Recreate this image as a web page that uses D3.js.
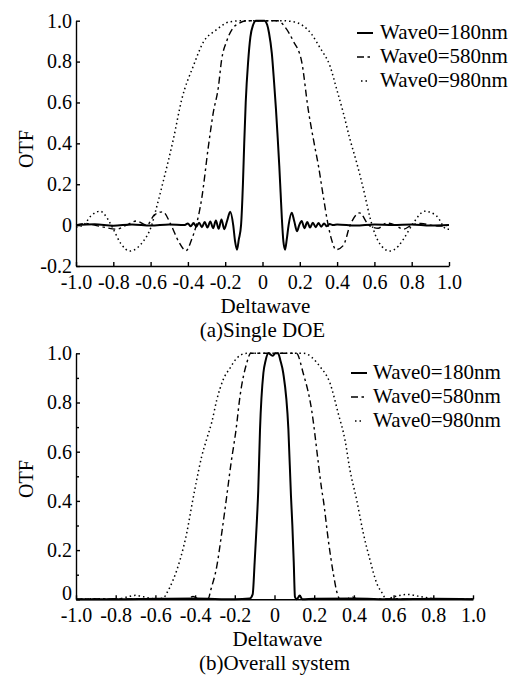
<!DOCTYPE html>
<html>
<head>
<meta charset="utf-8">
<script src="https://cdn.jsdelivr.net/npm/d3@7/dist/d3.min.js"></script>
</head>
<body style="margin:0; background:#fff">
<svg width="511" height="677"></svg>
<script>
// ---- data ----
var xTicks = [-1, -0.8, -0.6, -0.4, -0.2, 0, 0.2, 0.4, 0.6, 0.8, 1];
var topYTicks = [-0.2, 0, 0.2, 0.4, 0.6, 0.8, 1];
var botYTicks = [0, 0.2, 0.4, 0.6, 0.8, 1];
var botYMinor = [0.1, 0.3, 0.5, 0.7, 0.9];
var seriesNames = ["Wave0=180nm", "Wave0=580nm", "Wave0=980nm"];

// (a) Single DOE
var singleDelta180 = [-1, -0.9, -0.8, -0.7, -0.6, -0.5, -0.42, -0.4, -0.385, -0.37, -0.355, -0.34, -0.325, -0.31, -0.295, -0.28, -0.265, -0.25, -0.235, -0.22, -0.205, -0.19, -0.173, -0.157, -0.147, -0.137, -0.127, -0.115, -0.105, -0.098, -0.09, -0.077, -0.065, -0.05, -0.035, 0.01, 0.025, 0.035, 0.05, 0.062, 0.072, 0.08, 0.09, 0.097, 0.104, 0.112, 0.121, 0.13, 0.14, 0.157, 0.17, 0.185, 0.197, 0.21, 0.225, 0.24, 0.255, 0.27, 0.285, 0.3, 0.315, 0.33, 0.345, 0.36, 0.38, 0.4, 0.5, 0.6, 0.7, 0.8, 0.9, 1];
var singleOtf180 = [0, 0.004, -0.003, 0.003, -0.002, 0.003, 0, 0.008, -0.006, 0.01, -0.008, 0.012, -0.01, 0.015, -0.012, 0.018, -0.015, 0.022, -0.018, 0.028, -0.02, 0.02, 0.065, 0.0, -0.08, -0.12, -0.07, 0.0, 0.2, 0.4, 0.6, 0.8, 0.92, 0.98, 1.0, 1.0, 0.98, 0.94, 0.84, 0.7, 0.57, 0.45, 0.29, 0.16, 0.03, -0.08, -0.12, -0.07, 0.0, 0.06, 0.02, -0.03, 0.0, 0.02, -0.015, 0.015, -0.012, 0.012, -0.01, 0.01, -0.008, 0.008, -0.006, 0.005, 0, 0.003, -0.002, 0.003, 0, 0.003, -0.002, 0];

var singleDelta580 = [-1, -0.95, -0.9, -0.85, -0.78, -0.73, -0.675, -0.62, -0.58, -0.535, -0.49, -0.45, -0.41, -0.38, -0.355, -0.326, -0.29, -0.264, -0.237, -0.219, -0.192, -0.157, -0.13, -0.08, 0, 0.08, 0.12, 0.165, 0.21, 0.245, 0.28, 0.3, 0.326, 0.35, 0.37, 0.394, 0.433, 0.47, 0.52, 0.57, 0.62, 0.666, 0.71, 0.755, 0.8, 0.85, 0.9, 0.95, 1];
var singleOtf580 = [0, 0.008, 0, -0.01, -0.02, 0, 0.02, 0, 0.05, 0.065, 0.0, -0.08, -0.125, -0.07, 0.0, 0.13, 0.386, 0.55, 0.672, 0.81, 0.9, 0.966, 0.985, 1.0, 1.0, 1.0, 0.97, 0.9, 0.8, 0.566, 0.386, 0.29, 0.14, 0.01, -0.07, -0.12, -0.1, 0.0, 0.06, 0.0, -0.015, 0.01, 0, -0.02, 0, 0.008, 0, -0.005, 0];

var singleDelta980 = [-1, -0.96, -0.92, -0.871, -0.83, -0.8, -0.76, -0.71, -0.67, -0.64, -0.594, -0.57, -0.55, -0.532, -0.478, -0.433, -0.371, -0.314, -0.255, -0.174, -0.1, 0, 0.1, 0.165, 0.264, 0.308, 0.362, 0.398, 0.433, 0.469, 0.505, 0.55, 0.565, 0.594, 0.639, 0.684, 0.728, 0.755, 0.81, 0.871, 0.934, 0.988, 1];
var singleOtf980 = [-0.01, 0.0, 0.045, 0.068, 0.03, -0.02, -0.09, -0.127, -0.11, -0.08, 0.0, 0.08, 0.15, 0.215, 0.42, 0.615, 0.778, 0.9, 0.95, 0.995, 1.0, 1.0, 1.0, 0.995, 0.933, 0.868, 0.778, 0.664, 0.55, 0.42, 0.305, 0.142, 0.08, -0.02, -0.103, -0.127, -0.103, -0.07, 0.012, 0.068, 0.044, -0.02, -0.02];

// (b) Overall system
var overallDelta180 = [-1, -0.8, -0.6, -0.4, -0.2, -0.125, -0.11, -0.1, -0.09, -0.082, -0.073, -0.056, -0.045, -0.031, -0.01, 0.005, 0.018, 0.03, 0.044, 0.07, 0.083, 0.09, 0.097, 0.103, 0.112, 0.127, 0.14, 0.2, 0.4, 0.6, 0.8, 1];
var overallOtf180 = [0, 0, 0.002, 0.003, 0, 0.003, 0.02, 0.15, 0.3, 0.44, 0.69, 0.92, 0.97, 1.0, 0.99, 1.0, 1.0, 0.97, 0.92, 0.69, 0.42, 0.3, 0.15, 0.01, 0.0, 0.015, 0.0, 0.002, 0.003, 0, 0.002, 0];

var overallDelta580 = [-1, -0.8, -0.6, -0.44, -0.41, -0.38, -0.345, -0.333, -0.321, -0.291, -0.266, -0.241, -0.219, -0.194, -0.174, -0.14, -0.12, 0, 0.11, 0.145, 0.187, 0.221, 0.238, 0.246, 0.271, 0.296, 0.316, 0.33, 0.36, 0.39, 0.42, 0.6, 0.8, 1];
var overallOtf580 = [0, 0.002, 0, 0, 0.012, 0, 0, 0.004, 0.038, 0.133, 0.268, 0.417, 0.553, 0.688, 0.824, 0.96, 1.0, 1.0, 1.0, 0.918, 0.77, 0.553, 0.445, 0.404, 0.241, 0.106, 0.024, 0.0, 0, 0.01, 0, 0.002, 0, 0];

var overallDelta980 = [-1, -0.9, -0.8, -0.73, -0.7, -0.66, -0.6, -0.56, -0.543, -0.51, -0.476, -0.442, -0.417, -0.392, -0.367, -0.342, -0.316, -0.291, -0.258, -0.224, -0.19, -0.14, 0, 0.145, 0.229, 0.28, 0.321, 0.355, 0.38, 0.414, 0.447, 0.481, 0.515, 0.548, 0.56, 0.6, 0.67, 0.73, 0.8, 0.9, 1];
var overallOtf980 = [0, 0.002, 0, 0.012, 0.016, 0.01, 0.002, 0.005, 0.025, 0.08, 0.16, 0.27, 0.38, 0.485, 0.58, 0.65, 0.72, 0.81, 0.894, 0.94, 0.98, 1.0, 1.0, 1.0, 0.946, 0.878, 0.756, 0.648, 0.526, 0.404, 0.27, 0.16, 0.065, 0.018, 0.0, 0.01, 0.02, 0.012, 0.003, 0, 0];

// ---- drawing ----
var svg = d3.select("svg");
var serif = "'Liberation Serif'";

var dashes = [null, "7,3.5,2.5,3.5", "1.5,3"];
var widths = [2, 1.4, 1.5];

function fmt(d) { return d === 0 ? "0" : d.toFixed(1); }

function styleAxis(sel) {
  sel.attr("font-family", null).attr("font-size", null);
  sel.selectAll(".domain, .tick line").attr("stroke", "#000").attr("stroke-width", 1.4);
  sel.selectAll(".tick text")
    .style("font-family", serif)
    .style("font-size", "20px")
    .attr("fill", "#000");
}

function label(g, size) {
  return g.append("text")
    .style("font-family", serif)
    .style("font-size", size + "px")
    .attr("fill", "#000");
}

function panel(opt) {
  var x = d3.scaleLinear().domain([-1, 1]).range(opt.xRange);
  var y = d3.scaleLinear().domain(opt.yDomain).range(opt.yRange);
  var g = svg.append("g");

  g.append("g")
    .attr("transform", "translate(0," + opt.yRange[0] + ")")
    .call(d3.axisBottom(x).tickValues(xTicks).tickFormat(fmt)
      .tickSizeInner(-4).tickSizeOuter(0).tickPadding(9))
    .call(styleAxis);

  var ya = g.append("g")
    .attr("transform", "translate(" + opt.xRange[0] + ",0)")
    .call(d3.axisLeft(y).tickValues(opt.yTicks).tickFormat(fmt)
      .tickSizeInner(-4).tickSizeOuter(0).tickPadding(4))
    .call(styleAxis);
  // in the lower panel the zero label sits on the axis line
  ya.selectAll(".tick text").filter(function(d) { return d === 0; })
    .attr("dy", opt.zeroDy);

  if (opt.yMinor) {
    g.append("g")
      .attr("transform", "translate(" + opt.xRange[0] + ",0)")
      .call(d3.axisLeft(y).tickValues(opt.yMinor).tickFormat("")
        .tickSizeInner(-3).tickSizeOuter(0))
      .call(styleAxis)
      .select(".domain").remove();
  }

  var line = d3.line()
    .x(function(d) { return x(d[0]); })
    .y(function(d) { return y(d[1]); })
    .curve(d3.curveMonotoneX);

  opt.series.forEach(function(s, i) {
    g.append("path")
      .datum(d3.zip(s[0], s[1]))
      .attr("fill", "none")
      .attr("stroke", "#000")
      .attr("stroke-width", widths[i])
      .attr("stroke-dasharray", dashes[i])
      .attr("d", line);
  });

  // legend
  var lg = g.selectAll(".legend")
    .data(seriesNames)
    .enter().append("g")
    .attr("transform", function(d, i) {
      return "translate(" + opt.legend[0] + "," + (opt.legend[1] + i * 24) + ")";
    });
  lg.append("line")
    .attr("x1", function(d, i) { return i === 2 ? 4 : 0; })
    .attr("x2", function(d, i) { return i === 2 ? 10 : 16; })
    .attr("y1", -6).attr("y2", -6)
    .attr("stroke", "#000")
    .attr("stroke-width", function(d, i) { return widths[i]; })
    .attr("stroke-dasharray", function(d, i) { return dashes[i]; });
  lg.append("text")
    .attr("x", opt.legendGap)
    .attr("fill", "#000")
    .style("font-family", serif)
    .style("font-size", "21px")
    .text(function(d) { return d; });

  var cx = (opt.xRange[0] + opt.xRange[1]) / 2;
  label(g, 21)
    .attr("x", cx + 3).attr("y", opt.yRange[0] + 47)
    .attr("text-anchor", "middle")
    .text("Deltawave");
  label(g, 21)
    .attr("x", cx).attr("y", opt.yRange[0] + 71)
    .attr("text-anchor", "middle")
    .text(opt.caption);

  label(g, 20)
    .attr("transform", "translate(33," + opt.otfY + ") rotate(-90)")
    .attr("text-anchor", "middle")
    .text("OTF");
}

panel({
  xRange: [76, 449], yDomain: [-0.2, 1], yRange: [266, 20.7],
  yTicks: topYTicks, legend: [357, 39], legendGap: 23, otfY: 149, zeroDy: "0.32em",
  caption: "(a)Single DOE",
  series: [[singleDelta180, singleOtf180], [singleDelta580, singleOtf580], [singleDelta980, singleOtf980]]
});

panel({
  xRange: [76, 473], yDomain: [0, 1], yRange: [599.3, 353.3],
  yTicks: botYTicks, yMinor: botYMinor, legend: [351, 379], legendGap: 22, otfY: 479, zeroDy: "0em",
  caption: "(b)Overall system",
  series: [[overallDelta180, overallOtf180], [overallDelta580, overallOtf580], [overallDelta980, overallOtf980]]
});
</script>
</body>
</html>
